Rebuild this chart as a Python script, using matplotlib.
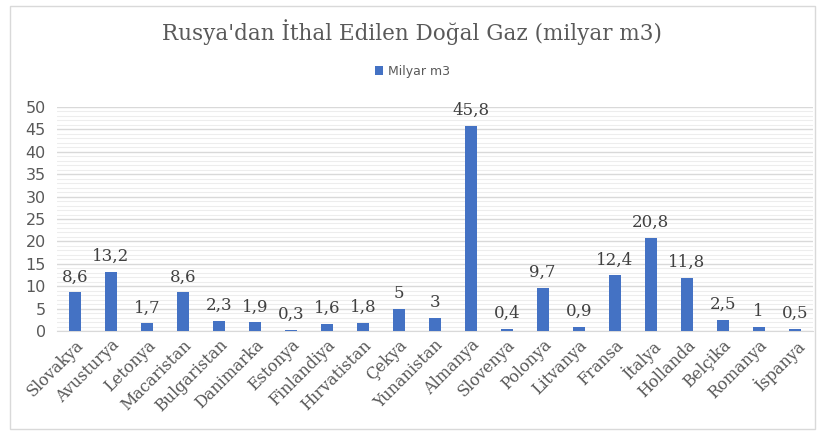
import matplotlib
matplotlib.use("Agg")
import matplotlib.pyplot as plt
from matplotlib.ticker import MultipleLocator

countries = ["Slovakya", "Avusturya", "Letonya", "Macaristan", "Bulgaristan", "Danimarka",
             "Estonya", "Finlandiya", "Hırvatistan", "Çekya", "Yunanistan", "Almanya",
             "Slovenya", "Polonya", "Litvanya", "Fransa", "İtalya", "Hollanda", "Belçika",
             "Romanya", "İspanya"]
values = [8.6, 13.2, 1.7, 8.6, 2.3, 1.9, 0.3, 1.6, 1.8, 5, 3, 45.8, 0.4, 9.7, 0.9,
          12.4, 20.8, 11.8, 2.5, 1, 0.5]

bar_color = "#4472C4"
text_gray = "#595959"

fig = plt.figure(figsize=(8.25, 4.33), dpi=100)
ax = fig.add_axes([0.069, 0.2356, 0.916, 0.5173])

x = list(range(len(countries)))
bars = ax.bar(x, values, width=0.33, color=bar_color, label="Milyar m3", zorder=3)

ax.set_xlim(-0.5, len(countries) - 0.5)
ax.set_ylim(0, 50)
ax.yaxis.set_major_locator(MultipleLocator(5))
ax.yaxis.set_minor_locator(MultipleLocator(1))
ax.grid(axis="y", which="major", color="#D9D9D9", linewidth=1.0, zorder=0)
ax.grid(axis="y", which="minor", color="#EDEDED", linewidth=0.8, zorder=0)
ax.tick_params(axis="both", which="both", length=0)
for s in ["top", "right", "left"]:
    ax.spines[s].set_visible(False)
ax.spines["bottom"].set_color("#D9D9D9")

ax.set_xticks(x)
ax.set_xticklabels(countries, rotation=45, ha="right", rotation_mode="anchor",
                   family="DejaVu Serif", fontsize=11.5, color=text_gray)
for lab in ax.get_yticklabels():
    lab.set_family("DejaVu Sans")
    lab.set_fontsize(11.5)
    lab.set_color(text_gray)
ax.tick_params(axis="y", pad=8)
ax.tick_params(axis="x", pad=4)

for xi, v in zip(x, values):
    lbl = f"{v:g}".replace(".", ",")
    ax.annotate(lbl, (xi, v), xytext=(0, 5), textcoords="offset points",
                ha="center", va="bottom", family="DejaVu Serif", fontsize=12,
                color="#404040")

fig.text(0.5, 0.925, "Rusya'dan İthal Edilen Doğal Gaz (milyar m3)", ha="center",
         va="center", family="DejaVu Serif", fontsize=15.5, color=text_gray)

leg = fig.legend(handles=[bars], labels=["Milyar m3"], loc="center",
                 bbox_to_anchor=(0.5, 0.835), frameon=False, fontsize=9,
                 handlelength=0.7, handleheight=0.7, handletextpad=0.4)
for t in leg.get_texts():
    t.set_color(text_gray)

# chart border
fig.patches.append(matplotlib.patches.Rectangle((0.012, 0.01), 0.976, 0.975,
                   transform=fig.transFigure, fill=False, edgecolor="#D9D9D9",
                   linewidth=1.0))

fig.savefig("out.png", dpi=100)
